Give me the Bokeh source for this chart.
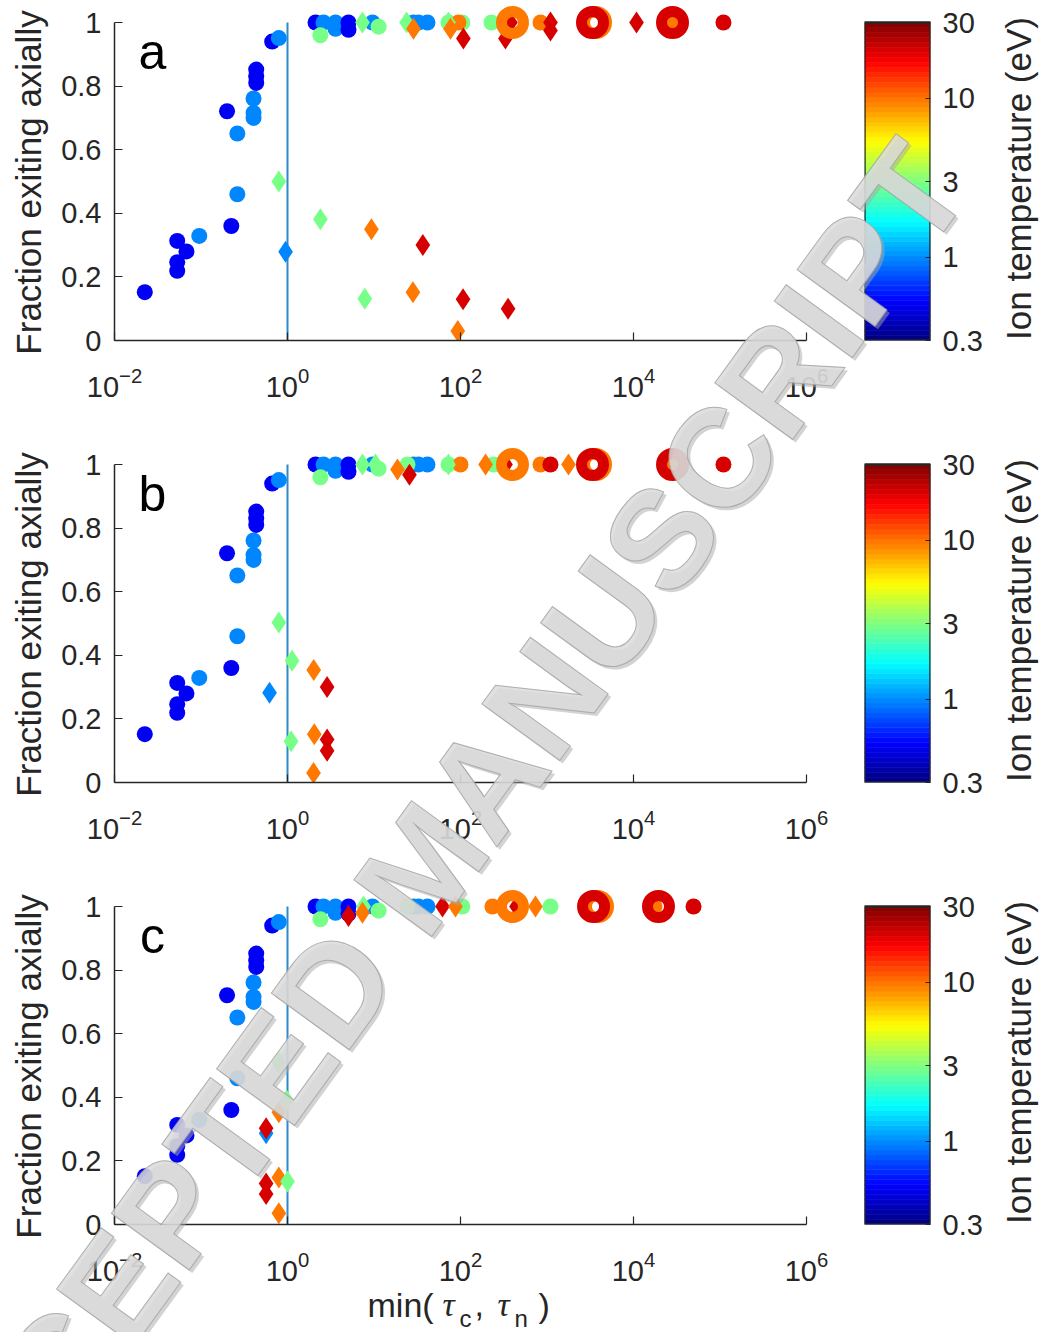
import numpy as np
from bokeh.plotting import figure
from bokeh.layouts import column, row
from bokeh.models import (LogColorMapper, FixedTicker, Label, CustomJSTickFormatter,
                          ColumnDataSource, Range1d)
from bokeh.transform import transform
from bokeh.embed import file_html
from bokeh.resources import INLINE

# ---------------- data ----------------
# ion temperature (eV) colour scale
T_LOW, T_HIGH = 0.3, 30.0
cbar_ticks = [0.3, 1, 3, 10, 30]
x_ticks = [1e-2, 1e0, 1e2, 1e4, 1e6]
y_ticks = [0, 0.2, 0.4, 0.6, 0.8, 1.0]
tau_split = 1.0

# low-tau runs (circles), common to all three cases
low_circ_x = [0.0224, 0.0531, 0.0679, 0.0531, 0.0531, 0.0955, 0.224, 0.263, 0.200,
              0.263, 0.405, 0.405, 0.405, 0.435, 0.435, 0.435, 0.665, 0.794]
low_circ_y = [0.152, 0.313, 0.280, 0.246, 0.219, 0.329, 0.360, 0.460, 0.721,
              0.651, 0.700, 0.716, 0.761, 0.810, 0.830, 0.852, 0.940, 0.951]
low_circ_t = [0.5, 0.5, 0.5, 0.5, 0.5, 1, 0.5, 1, 0.5,
              1, 1, 1, 1, 0.5, 0.5, 0.5, 0.5, 1]

# high-tau runs (circles), common to all three cases
top_circ_x = [2.11, 2.61, 3.59, 3.59, 5.07, 5.07, 9.61, 28.6, 32.7, 41.5, 11.3, 2.40]
top_circ_y = [1.0, 1.0, 1.0, 0.98, 1.0, 0.977, 1.0, 1.0, 1.0, 1.0, 0.987, 0.96]
top_circ_t = [0.5, 1, 1, 1, 0.5, 0.5, 1, 1, 1, 1, 3, 3]

# case a
a_circ_x = [72.6, 105, 94.8, 228, 841, 28250, 109600]
a_circ_y = [1.0, 1.0, 1.0, 1.0, 1.0, 1.0, 1.0]
a_circ_t = [3, 3, 10, 3, 10, 10, 20]
a_diam_x = [0.794, 0.95, 2.40, 9.33, 36.7, 7.83, 28.2, 107, 93, 355,
            7.36, 23.8, 28.6, 72.6, 76.6, 108, 331, 378, 1097, 1097, 10840]
a_diam_y = [0.50, 0.279, 0.381, 0.35, 0.30, 0.131, 0.152, 0.13, 0.03, 0.10,
            1.0, 1.0, 0.98, 1.0, 0.98, 0.95, 0.95, 1.0, 1.0, 0.975, 1.0]
a_diam_t = [3, 1, 3, 10, 20, 3, 10, 20, 10, 20,
            3, 3, 10, 3, 10, 20, 20, 20, 20, 20, 20]
a_ring_x = [399, 3639, 3357, 28250]
a_ring_y = [1.0, 1.0, 1.0, 1.0]
a_ring_t = [10, 10, 20, 20]

# case b
b_circ_x = [24.4, 72.6, 100, 241, 841, 1097, 28250, 109600]
b_circ_y = [1.0, 1.0, 1.0, 1.0, 1.0, 1.0, 1.0, 1.0]
b_circ_t = [3, 3, 10, 3, 10, 20, 10, 20]
b_diam_x = [0.794, 1.13, 2.01, 2.87, 0.62, 1.10, 2.04, 2.87, 2.87, 2.0,
            7.36, 10.4, 18.7, 25.7, 72.6, 195, 331, 1773]
b_diam_y = [0.503, 0.383, 0.354, 0.30, 0.282, 0.13, 0.152, 0.135, 0.10, 0.03,
            1.0, 1.0, 0.984, 0.968, 1.0, 1.0, 1.0, 1.0]
b_diam_t = [3, 3, 10, 20, 1, 3, 10, 20, 20, 10,
            3, 3, 10, 20, 3, 10, 20, 10]
b_ring_x = [399, 3639, 3357, 28250]
b_ring_y = [1.0, 1.0, 1.0, 1.0]
b_ring_t = [10, 10, 20, 20]

# case c
c_circ_x = [24.4, 105, 234, 1097, 17500, 49430]
c_circ_y = [1.0, 1.0, 1.0, 1.0, 1.0, 1.0]
c_circ_t = [3, 3, 10, 3, 10, 20]
c_diam_x = [0.794, 0.977, 0.794, 0.566, 0.566, 0.566, 0.566, 0.794, 1.0, 0.794,
            7.57, 5.07, 7.36, 61.9, 87.5, 444, 736]
c_diam_y = [0.51, 0.39, 0.353, 0.287, 0.303, 0.129, 0.096, 0.148, 0.135, 0.035,
            1.0, 0.97, 0.98, 1.0, 1.0, 1.0, 1.0]
c_diam_t = [3, 3, 10, 1, 20, 20, 20, 10, 3, 10,
            3, 20, 10, 20, 10, 20, 10]
c_ring_x = [399, 3837, 3451, 19450]
c_ring_y = [1.0, 1.0, 1.0, 1.0]
c_ring_t = [10, 10, 20, 20]

panel_letters = ["a", "b", "c"]

# ---------------- styling ----------------
FONT = "Liberation Sans"
INK = "#262626"
PAGE_W, PAGE_H = 1039, 1332
ROW_H = [442, 442, 448]
ROW_TOP = [0, 442, 884]
FRAME_TOP = 4          # frame starts a little above y = 1 so markers at 1 are not cut
FRAME_H = 336
PX_PER_UNIT = 318
Y_TOP = FRAME_H / PX_PER_UNIT
CB_TOP = T_HIGH * (T_HIGH / T_LOW) ** ((FRAME_H - PX_PER_UNIT) / PX_PER_UNIT)


def jet(n):
    cols = []
    for i in range(n):
        t = (i + 0.5) / n
        r = min(max(1.5 - abs(4 * t - 3), 0), 1)
        g = min(max(1.5 - abs(4 * t - 2), 0), 1)
        b = min(max(1.5 - abs(4 * t - 1), 0), 1)
        cols.append("#%02x%02x%02x" % (round(r * 255), round(g * 255), round(b * 255)))
    return cols


JET = jet(64)
mapper = LogColorMapper(palette=JET, low=T_LOW, high=T_HIGH)


def style_axis(ax, tick_in):
    ax.major_tick_line_color = INK
    ax.major_tick_line_width = 1.2
    ax.major_tick_in = tick_in
    ax.major_tick_out = 0
    ax.minor_tick_line_color = None
    ax.major_label_text_font = FONT
    ax.major_label_text_font_size = "29px"
    ax.major_label_text_color = INK


def main_panel(idx, cx, cy, ct, dx, dy, dt, rx, ry, rt):
    p = figure(x_axis_type="log", x_range=(1e-2, 1e6), y_range=(0, Y_TOP),
               frame_width=692, frame_height=FRAME_H,
               min_border_left=114, min_border_right=58,
               min_border_top=FRAME_TOP, min_border_bottom=ROW_H[idx] - FRAME_TOP - FRAME_H,
               toolbar_location=None, output_backend="svg")
    p.outline_line_color = None
    p.grid.visible = False

    xa = p.xaxis[0]
    xa.ticker = FixedTicker(ticks=x_ticks, minor_ticks=[])
    ya = p.yaxis[0]
    ya.ticker = FixedTicker(ticks=y_ticks, minor_ticks=[])
    ya.formatter = CustomJSTickFormatter(code="return String(Math.round(tick*10)/10);")
    ya.bounds = (0, 1)
    for ax in (xa, ya):
        ax.axis_line_color = INK
        ax.axis_line_width = 1.5
        style_axis(ax, 8)
        ax.major_label_standoff = 13
    xa.major_label_standoff = 26

    p.segment(x0=[tau_split], y0=[0], x1=[tau_split], y1=[1],
              line_color="#2f89c9", line_width=2)

    cmap = transform("t", mapper)
    p.scatter("x", "y", source=ColumnDataSource(dict(x=cx, y=cy, t=ct)),
              marker="circle", size=16, fill_color=cmap, line_color=None)
    p.scatter("x", "y", source=ColumnDataSource(dict(x=dx, y=dy, t=dt)),
              marker="diamond", size=22, fill_color=cmap, line_color=None)
    p.scatter("x", "y", source=ColumnDataSource(dict(x=rx, y=ry, t=rt)),
              marker="circle", size=22, fill_color=None, line_color=cmap, line_width=11)

    p.add_layout(Label(x=0.0275, y=0.907, text=panel_letters[idx], text_align="center",
                       text_baseline="alphabetic", text_font=FONT, text_font_size="50px",
                       text_color="black"))
    return p


def cbar_panel(idx):
    c = figure(y_axis_type="log", x_range=(0, 1), y_range=(T_LOW, CB_TOP),
               frame_width=66, frame_height=FRAME_H, min_border_left=0, min_border_right=109,
               min_border_top=FRAME_TOP, min_border_bottom=ROW_H[idx] - FRAME_TOP - FRAME_H,
               y_axis_location="right", toolbar_location=None, output_backend="svg")
    c.xaxis.visible = False
    c.grid.visible = False
    c.outline_line_color = None
    n = len(JET)
    edges = [T_LOW * (T_HIGH / T_LOW) ** (i / n) for i in range(n + 1)]
    mids = [np.sqrt(edges[i] * edges[i + 1]) for i in range(n)]
    c.quad(left=0, right=1, bottom="b", top="t",
           source=ColumnDataSource(dict(b=edges[:-1], t=edges[1:], m=mids)),
           fill_color=transform("m", mapper), line_color=transform("m", mapper), line_width=0.6)
    c.quad(left=[0], right=[1], bottom=[T_LOW], top=[T_HIGH], fill_color=None,
           line_color=INK, line_width=2.4)
    ya = c.yaxis[0]
    ya.ticker = FixedTicker(ticks=cbar_ticks, minor_ticks=[])
    ya.formatter = CustomJSTickFormatter(code="return String(Math.round(tick*10)/10);")
    ya.bounds = (T_LOW, T_HIGH)
    ya.axis_line_color = None
    style_axis(ya, 5)
    ya.major_label_standoff = 12
    return c


pa = main_panel(0, low_circ_x + top_circ_x + a_circ_x, low_circ_y + top_circ_y + a_circ_y,
                low_circ_t + top_circ_t + a_circ_t, a_diam_x, a_diam_y, a_diam_t,
                a_ring_x, a_ring_y, a_ring_t)
pb = main_panel(1, low_circ_x + top_circ_x + b_circ_x, low_circ_y + top_circ_y + b_circ_y,
                low_circ_t + top_circ_t + b_circ_t, b_diam_x, b_diam_y, b_diam_t,
                b_ring_x, b_ring_y, b_ring_t)
pc = main_panel(2, low_circ_x + top_circ_x + c_circ_x, low_circ_y + top_circ_y + c_circ_y,
                low_circ_t + top_circ_t + c_circ_t, c_diam_x, c_diam_y, c_diam_t,
                c_ring_x, c_ring_y, c_ring_t)

# ---------------- page-wide text layer ----------------
ov = figure(width=PAGE_W, height=PAGE_H, x_range=Range1d(0, PAGE_W), y_range=Range1d(PAGE_H, 0),
            min_border=0, x_axis_location=None, y_axis_location=None,
            toolbar_location=None, output_backend="svg",
            styles={"position": "absolute", "left": "0px", "top": "0px",
                    "z-index": "10", "pointer-events": "none"})
ov.background_fill_color = None
ov.border_fill_color = None
ov.outline_line_color = None
ov.grid.visible = False

for k in range(3):
    # y-axis title, centred on the 0..1 span
    ov.add_layout(Label(x=28, y=ROW_TOP[k] + 182, text="Fraction exiting axially",
                        angle=np.pi / 2, text_align="center", text_baseline="middle",
                        text_font=FONT, text_font_size="35px", text_color=INK))
    # colour-bar title
    ov.add_layout(Label(x=1018, y=ROW_TOP[k] + 178, text="Ion temperature (eV)",
                        angle=np.pi / 2, text_align="center", text_baseline="middle",
                        text_font=FONT, text_font_size="35px", text_color=INK))

# x-axis title of the bottom panel
xlabel_parts = [("min(", 367, 1304, "34px", FONT, "normal"),
                ("\u03c4", 442, 1304, "34px", "Liberation Serif", "italic"),
                ("c", 459, 1318, "24px", FONT, "normal"),
                (",", 474, 1304, "34px", FONT, "normal"),
                ("\u03c4", 497, 1304, "34px", "Liberation Serif", "italic"),
                ("n", 514, 1318, "24px", FONT, "normal"),
                (")", 538, 1304, "34px", FONT, "normal")]
for txt, gx, gy, fs, ff, fst in xlabel_parts:
    ov.add_layout(Label(x=gx, y=gy, text=txt, text_align="left", text_baseline="alphabetic",
                        text_font=ff, text_font_style=fst, text_font_size=fs, text_color=INK))

# diagonal stamp: soft shadow, then a light face with a grey rim
WM_TEXT = "ACCEPTED MANUSCRIPT"
WM_END = (935, 160)
WM_ANGLE = np.deg2rad(54)
has_outline = "text_outline_color" in Label.properties()
layers = [(3, 3, "#a8a8a8", 0.5, None), (0, 0, "#dadada", 0.85, "#a3a3a3")]
for dx, dy, col, alpha, rim in layers:
    kw = {}
    if has_outline and rim is not None:
        kw["text_outline_color"] = rim
    ov.add_layout(Label(x=WM_END[0] + dx, y=WM_END[1] + dy, text=WM_TEXT, angle=WM_ANGLE,
                        text_align="right", text_baseline="alphabetic",
                        text_font=FONT, text_font_style="bold", text_font_size="140px",
                        text_color=col, text_alpha=alpha, **kw))

layout = column(row(pa, cbar_panel(0)), row(pb, cbar_panel(1)), row(pc, cbar_panel(2)), ov)

open("out.html", "w").write(file_html(layout, INLINE))
